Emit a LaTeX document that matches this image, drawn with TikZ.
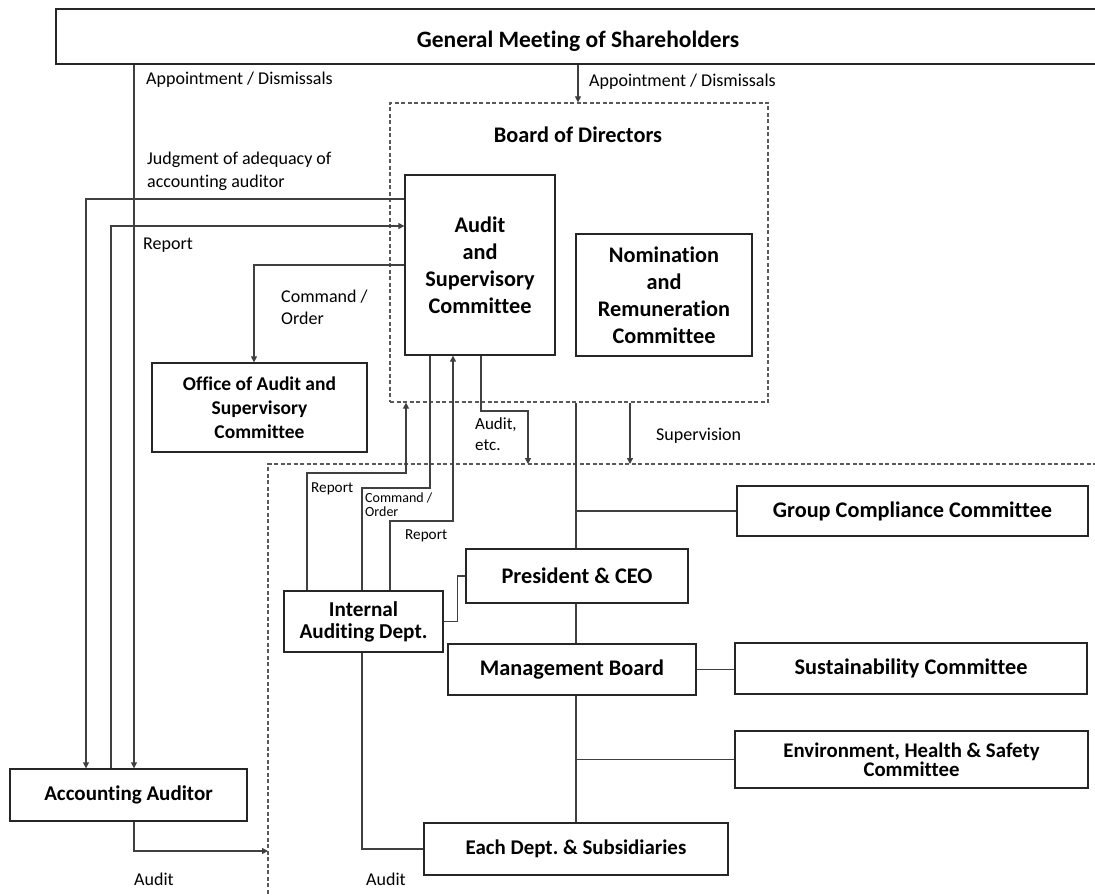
\documentclass[tikz,border=0pt]{standalone}
\usepackage{fontspec}
\setmainfont{Carlito}[Ligatures=NoCommon]
\usetikzlibrary{arrows.meta}
\begin{document}
\frenchspacing
\begin{tikzpicture}[x=1pt,y=-1pt,
  box/.style={draw=black!85, line width=1.3pt, fill=white, inner sep=2pt, align=center,
    font=\bfseries\fontsize{22.3}{27}\selectfont},
  dbox/.style={draw=black!65, line width=1.2pt, dash pattern=on 4pt off 2.5pt},
  con/.style={draw=black!75, line width=1.2pt},
  arr/.style={con, -{Triangle[width=6pt,length=6pt]}},
  lbl/.style={inner sep=0pt, anchor=west, align=left, font=\fontsize{18}{23}\selectfont},
  slbl/.style={inner sep=0pt, anchor=west, align=left, font=\fontsize{15.2}{18}\selectfont},
  tlbl/.style={inner sep=0pt, anchor=west, align=left, font=\fontsize{14}{14}\selectfont}
]
\useasboundingbox (0,0) rectangle (1095,896);

% coordinates
\coordinate (tr) at (576,0);
\coordinate (ctop) at (0,464);
\coordinate (gl) at (268,851);

% big dashed region
\draw[dbox] (268,900) -- (268,464) -- (1100,464);

% nodes
\node[box, minimum width=1044, minimum height=55, font=\bfseries\fontsize{23.5}{27}\selectfont] (gm) at (578,36.5) {\raisebox{-11pt}[0pt][0pt]{General Meeting of Shareholders}};
\node[dbox, minimum width=378, minimum height=299, inner sep=0pt] (bod) at (579,252.5) {};
\node[inner sep=0pt, font=\bfseries\fontsize{22.3}{27}\selectfont] (bodt) at (578,135) {Board of Directors};
\node[box, minimum width=150, minimum height=180] (asc) at (480,265) {Audit\\and\\Supervisory\\Committee};
\node[box, minimum width=176, minimum height=122] (nrc) at (664,295) {Nomination\\and\\Remuneration\\Committee};
\node[box, minimum width=215, minimum height=89, font=\bfseries\fontsize{19.5}{24}\selectfont] (oasc) at (259.5,407.5) {Office of Audit and\\Supervisory\\Committee};
\node[box, minimum width=237, minimum height=52, font=\bfseries\fontsize{21}{27}\selectfont] (aa) at (128.5,795) {Accounting Auditor};
\node[box, minimum width=351, minimum height=50] (gcc) at (912.5,511) {Group Compliance Committee};
\node[box, minimum width=222, minimum height=54] (pres) at (577,576) {President \& CEO};
\node[box, minimum width=159, minimum height=61, font=\bfseries\fontsize{21.2}{22}\selectfont] (iad) at (363.5,621.5) {Internal\\Auditing Dept.};
\node[box, minimum width=248, minimum height=51] (mb) at (572,669.5) {Management Board};
\node[box, minimum width=352, minimum height=51] (sus) at (911,668.5) {Sustainability Committee};
\node[box, minimum width=353, minimum height=57, font=\bfseries\fontsize{20.8}{19}\selectfont] (ehs) at (911.5,759.5) {Environment, Health \& Safety\\Committee};
\node[box, minimum width=304, minimum height=52, font=\bfseries\fontsize{20.9}{27}\selectfont] (each) at (576,849) {Each Dept. \& Subsidiaries};

% trunk
\draw[con] (bod.south -| tr) -- (pres.north -| tr);
\draw[con] (pres.south -| tr) -- (mb.north -| tr);
\draw[con] (mb.south -| tr) -- (each.north -| tr);
\draw[con] (tr |- gcc.west) -- (gcc.west);
\draw[con] (tr |- ehs.west) -- (ehs.west);
\draw[con] (mb.east) -- (sus.west |- mb.east);
\draw[con] (iad.east) -- ++(14,0) |- (pres.west);

% top appointments
\draw[arr] (gm.south -| 134,0) -- (aa.north -| 134,0);
\draw[arr] (gm.south -| 578,0) -- (bod.north -| 578,0);

% ASC <-> accounting auditor, office
\draw[arr] (asc.west |- 0,199) -| (86,0 |- aa.north);
\draw[arr] (111,0 |- aa.north) |- (asc.west |- 0,226);
\draw[arr] (asc.west |- 0,265) -| (254,0 |- oasc.north);

% ASC <-> internal auditing
\draw[con] (asc.south -| 430,0) |- (362,488) -- (362,0 |- iad.north);
\draw[con] (362,0 |- iad.south) |- (each.west);
\draw[arr] (390,0 |- iad.north) |- (453,521) -- (453,0 |- asc.south);
\draw[arr] (307,0 |- iad.north) |- (406,473) -- (406,0 |- bod.south);
\draw[arr] (481,0 |- asc.south) |- (528,411) -- (528,0 |- ctop);
\draw[arr] (630,0 |- bod.south) -- (630,0 |- ctop);
\draw[arr] (aa.south -| 134,0) |- (gl);

% labels
\node[lbl] (l1) at (146,80) {Appointment / Dismissals};
\node[lbl] (l2) at (589,82) {Appointment / Dismissals};
\node[lbl] (l3) at (147,171.5) {Judgment of adequacy of\\accounting auditor};
\node[lbl] (l4) at (143,245) {Report};
\node[lbl, font=\fontsize{18}{22}\selectfont] (l5) at (281,307) {Command /\\Order};
\node[lbl, font=\fontsize{17}{21}\selectfont] (l6) at (475,434.5) {Audit,\\etc.};
\node[lbl] (l7) at (656,436) {Supervision};
\node[slbl] (l8) at (311,489) {Report};
\node[tlbl] (l9) at (365,505) {Command /\\Order};
\node[slbl] (l10) at (405,536) {Report};
\node[lbl] (l11) at (134,879) {Audit};
\node[lbl] (l12) at (366,879) {Audit};
\end{tikzpicture}
\end{document}
